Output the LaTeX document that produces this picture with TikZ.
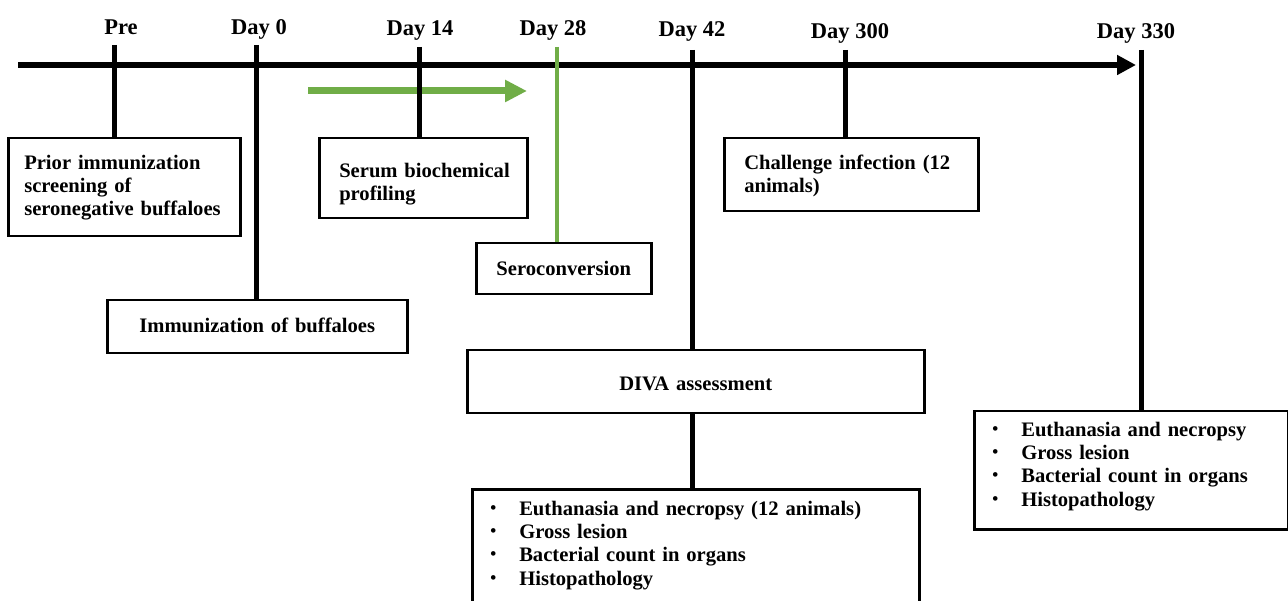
\documentclass[tikz,border=0pt]{standalone}
\usepackage{fontspec}
\setmainfont{Liberation Serif}
\usetikzlibrary{arrows.meta}
\definecolor{vgreen}{HTML}{70AD47}
\newcommand{\bodyfont}{\fontsize{20.6}{23.3}\selectfont\bfseries}
\newcommand{\lblfont}{\fontsize{22.5}{27}\selectfont\bfseries}
\newcommand{\bitem}[1]{\mbox{\makebox[29pt][l]{\raisebox{2pt}{\fontsize{17}{17}\selectfont\textbullet}}#1}}
\begin{document}
\begin{tikzpicture}[x=1pt,y=-1pt,
  box/.style={draw, line width=2.5pt, anchor=north west, inner ysep=0pt, font=\bodyfont},
  lbl/.style={anchor=base, inner sep=0pt, font=\lblfont},
  tick/.style={line width=5pt, line cap=butt},
  gtick/.style={line width=4pt, draw=vgreen},
  timeline/.style={line width=6pt, -{Triangle[length=19pt,width=19pt]}},
  garrow/.style={line width=7pt, draw=vgreen, -{Triangle[length=22pt,width=21pt]}}]
\useasboundingbox (0,0) rectangle (1288,601);
\clip (0,0) rectangle (1288,601);
\fill[white] (0,0) rectangle (1288,601);

% timeline
\coordinate (tlstart) at (18,65);
\coordinate (tlend) at (1136,65);
\draw[timeline] (tlstart) -- (tlend);

% labels
\node[lbl] (lpre) at (121,35) {Pre};
\node[lbl] (l0) at (259,35) {Day 0};
\node[lbl] (l14) at (420,36) {Day 14};
\node[lbl] (l28) at (553,36) {Day 28};
\node[lbl] (l42) at (692,37) {Day 42};
\node[lbl] (l300) at (850,39) {Day 300};
\node[lbl] (l330) at (1136,39) {Day 330};

% boxes
\node[box, text width=200pt, inner xsep=16pt, text height=31pt, text depth=67pt, align=left] (prior) at (7,137)
  {\mbox{Prior immunization}\\\mbox{screening of}\\\mbox{seronegative buffaloes}};
\node[box, text width=168pt, inner xsep=20pt, text height=39pt, text depth=41pt, align=left] (serum) at (318,137)
  {\mbox{Serum biochemical}\\\mbox{profiling}};
\node[box, text width=214pt, inner xsep=20pt, text height=31pt, text depth=42pt, align=left] (chal) at (723,137)
  {\mbox{Challenge infection (12}\\\mbox{animals)}};
\node[box, text width=155pt, inner xsep=10pt, text height=32pt, text depth=19pt, align=center] (sero) at (475,242)
  {Seroconversion};
\node[box, text width=280pt, inner xsep=10pt, text height=32pt, text depth=21pt, align=center] (immun) at (106,299)
  {Immunization of buffaloes};
\node[box, text width=437pt, inner xsep=10pt, text height=40pt, text depth=23pt, align=center] (diva) at (466,349)
  {DIVA assessment};
\node[box, text width=411pt, inner xsep=18pt, text height=26pt, text depth=200pt, align=left] (eut42) at (471,488)
  {\bitem{Euthanasia and necropsy (12 animals)}\\\bitem{Gross lesion}\\\bitem{Bacterial count in organs}\\\bitem{Histopathology}};
\node[box, text width=278pt, inner xsep=18pt, text height=25pt, text depth=93pt, align=left] (eut330) at (973,410)
  {\bitem{Euthanasia and necropsy}\\\bitem{Gross lesion}\\\bitem{Bacterial count in organs}\\\bitem{Histopathology}};

% green progress arrow
\coordinate (ga0) at (308,91);
\coordinate (ga1) at (527,91);
\draw[garrow] (ga0) -- (ga1);

% ticks
\coordinate (tpre) at (114,45);
\coordinate (t0) at (256,45);
\coordinate (t14) at (419,47);
\coordinate (t28) at (557,47);
\coordinate (t42) at (692,50);
\coordinate (t300) at (845,50);
\coordinate (t330) at (1141,50);
\draw[tick] (tpre) -- (tpre |- prior.north);
\draw[tick] (t0) -- (t0 |- immun.north);
\draw[tick] (t14) -- (t14 |- serum.north);
\draw[gtick] (t28) -- (t28 |- sero.north);
\draw[tick] (t42) -- (t42 |- diva.north);
\draw[tick] (diva.south -| t42) -- (eut42.north -| t42);
\draw[tick] (t300) -- (t300 |- chal.north);
\draw[tick] (t330) -- (t330 |- eut330.north);
\end{tikzpicture}
\end{document}
